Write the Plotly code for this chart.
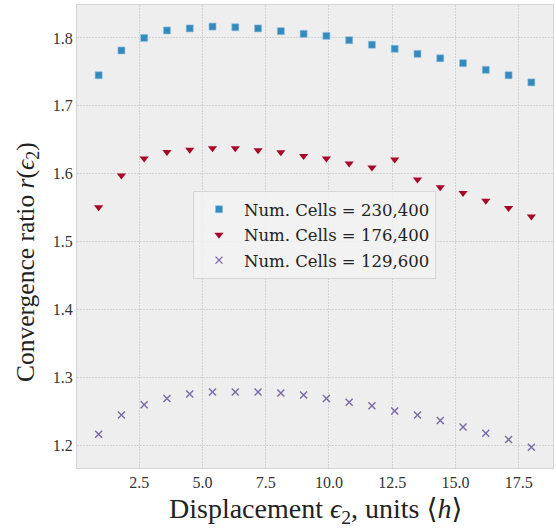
import plotly.graph_objects as go

# Displacement values (units of h)
displacement = [0.9, 1.8, 2.7, 3.6, 4.5, 5.4, 6.3, 7.2, 8.1, 9.0,
                9.9, 10.8, 11.7, 12.6, 13.5, 14.4, 15.3, 16.2, 17.1, 18.0]

# Convergence ratio for each mesh resolution
ratio_230400 = [1.745, 1.7815, 1.800, 1.811, 1.814, 1.8167, 1.8157, 1.814, 1.810, 1.806,
                1.803, 1.7966, 1.790, 1.784, 1.7765, 1.770, 1.7628, 1.753, 1.745, 1.7345]
ratio_176400 = [1.5505, 1.5975, 1.6225, 1.632, 1.6353, 1.6376, 1.6376, 1.6347, 1.6317, 1.626,
                1.6225, 1.615, 1.609, 1.621, 1.5916, 1.580, 1.5715, 1.560, 1.5495, 1.5368]
ratio_129600 = [1.2162, 1.2445, 1.2598, 1.269, 1.2754, 1.2783, 1.2783, 1.2783, 1.2769, 1.274,
                1.269, 1.2632, 1.2583, 1.2504, 1.2445, 1.2363, 1.2269, 1.2176, 1.2084, 1.197]

series_names = ["Num. Cells = 230,400", "Num. Cells = 176,400", "Num. Cells = 129,600"]

x_ticks = [2.5, 5.0, 7.5, 10.0, 12.5, 15.0, 17.5]
y_ticks = [1.2, 1.3, 1.4, 1.5, 1.6, 1.7, 1.8]

x_title = "Displacement <i>ϵ</i><sub>2</sub>, units ⟨<i>h</i>⟩"
y_title = "Convergence ratio <i>r</i>(<i>ϵ</i><sub>2</sub>)"

SERIF = "'Liberation Serif', 'DejaVu Serif', serif"
SERIF_WIDE = "'DejaVu Serif', 'Liberation Serif', serif"

W, H = 556, 529
M = dict(l=77, r=3, t=5, b=61)

fig = go.Figure()
fig.add_trace(go.Scatter(
    x=displacement, y=ratio_230400, mode="markers", name=series_names[0],
    legendgroup="a",
    marker=dict(symbol="square", size=7, color="#348ABD",
                line=dict(width=0.6, color="#8cc0e0")),
))
fig.add_trace(go.Scatter(
    x=displacement, y=ratio_176400, mode="markers", name=series_names[1],
    legendgroup="b",
    marker=dict(symbol="triangle-down", size=8, color="#A60628",
                line=dict(width=0)),
))
fig.add_trace(go.Scatter(
    x=displacement, y=ratio_129600, mode="markers", name=series_names[2],
    legendgroup="c",
    marker=dict(symbol="x-thin", size=7, color="#7A68A6",
                line=dict(width=1.4, color="#7A68A6")),
))

axis_common = dict(
    showgrid=True, gridcolor="#d2d2d2", gridwidth=1, griddash="2px,1px",
    zeroline=False, showline=True, mirror=True, linecolor="#d4d4d4", linewidth=1,
    ticks="", tickfont=dict(family=SERIF, size=16, color="#333333"),
)

plot_w = W - M["l"] - M["r"]
plot_h = H - M["t"] - M["b"]

fig.update_layout(
    width=W, height=H,
    margin=M,
    paper_bgcolor="white",
    plot_bgcolor="#eeeeee",
    showlegend=True,
    legend=dict(
        x=(193 - M["l"]) / plot_w, y=(H - M["b"] - 191) / plot_h,
        xanchor="left", yanchor="top",
        bgcolor="rgba(242,242,242,0.85)", bordercolor="#d6d6d6", borderwidth=1,
        font=dict(family=SERIF_WIDE, size=16.5, color="#222222"),
        itemwidth=40, tracegroupgap=1,
    ),
    xaxis=dict(
        range=[0.045, 18.855], tickvals=x_ticks,
        ticktext=[f"{v:.1f}" for v in x_ticks],
        **axis_common,
    ),
    yaxis=dict(
        range=[1.1665, 1.8485], tickvals=y_ticks,
        ticktext=[f"{v:.1f}" for v in y_ticks],
        **axis_common,
    ),
    annotations=[
        dict(text=x_title, xref="paper", yref="paper",
             x=0.5, y=-(510 - (H - M["b"])) / plot_h,
             xanchor="center", yanchor="middle", showarrow=False,
             font=dict(family=SERIF, size=28, color="#222222")),
        dict(text=y_title, xref="paper", yref="paper",
             x=-(M["l"] - 27) / plot_w, y=(H - M["b"] - 262) / plot_h,
             xanchor="center", yanchor="middle", textangle=-90, showarrow=False,
             font=dict(family=SERIF, size=25.5, color="#222222")),
    ],
)

fig.write_html("out.html")
